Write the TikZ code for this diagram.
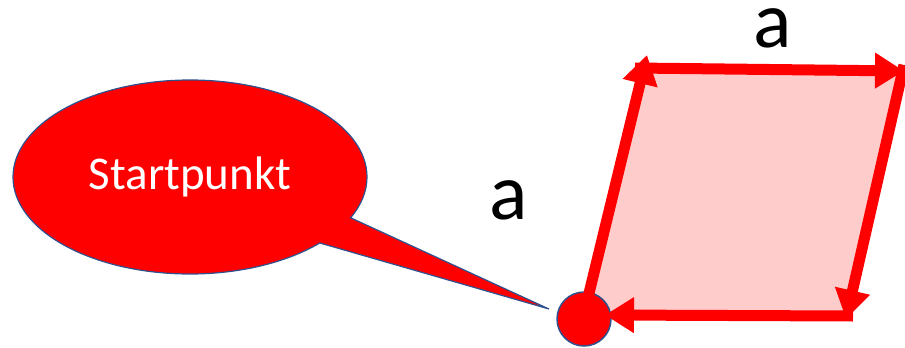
\documentclass[tikz,border=0pt]{standalone}
\usepackage{fontspec}
\setmainfont{Carlito}
\usetikzlibrary{arrows.meta,shapes.callouts}
\definecolor{rahmenblau}{RGB}{47,82,143}
\definecolor{flaeche}{RGB}{255,204,204}

\begin{document}
\begin{tikzpicture}[x=1pt, y=-1pt, >={Triangle[length=29pt,width=34pt]}]
    \useasboundingbox (0,0) rectangle (905,348);
    % Ecken der Raute
    \coordinate (A) at (583,318);
    \coordinate (B) at (641,68);
    \coordinate (C) at (903,71);
    \coordinate (D) at (847,316);
    \coordinate (spitze) at (549,309);
    \fill[flaeche] (A) -- (B) -- (C) -- (D) -- cycle;
    \draw[rahmenblau, line width=1pt] (A) -- (B) -- (C);
    \draw[rahmenblau, line width=1.5pt, fill=red] (584,319) circle (27);
    % Seiten als Pfeile
    \coordinate (b1) at (647,55);
    \coordinate (c0) at (635,68);
    \coordinate (c1) at (904,71);
    \coordinate (d0) at (904,65);
    \coordinate (d1) at (846,319);
    \coordinate (a0) at (853,316);
    \coordinate (a1) at (605,315);
    \draw[->, red, line width=11pt] (A) -- (b1);
    \draw[->, red, line width=11pt] (c0) -- (c1);
    \draw[->, red, line width=11pt] (d0) -- (d1);
    \draw[->, red, line width=11pt] (a0) -- (a1);
    \node[ellipse callout, draw=rahmenblau, line width=1.2pt, fill=red, text=white,
          minimum width=354pt, minimum height=194pt, callout pointer arc=18,
          callout absolute pointer={(spitze)}, font=\fontsize{47}{50}\selectfont]
          (blase) at (190,177) {Startpunkt};
    \node[inner sep=0pt, font=\fontsize{80}{90}\selectfont] (aoben) at (773,28) {a};
    \node[inner sep=0pt, font=\fontsize{80}{90}\selectfont] (alinks) at (509,200) {a};
\end{tikzpicture}
\end{document}
